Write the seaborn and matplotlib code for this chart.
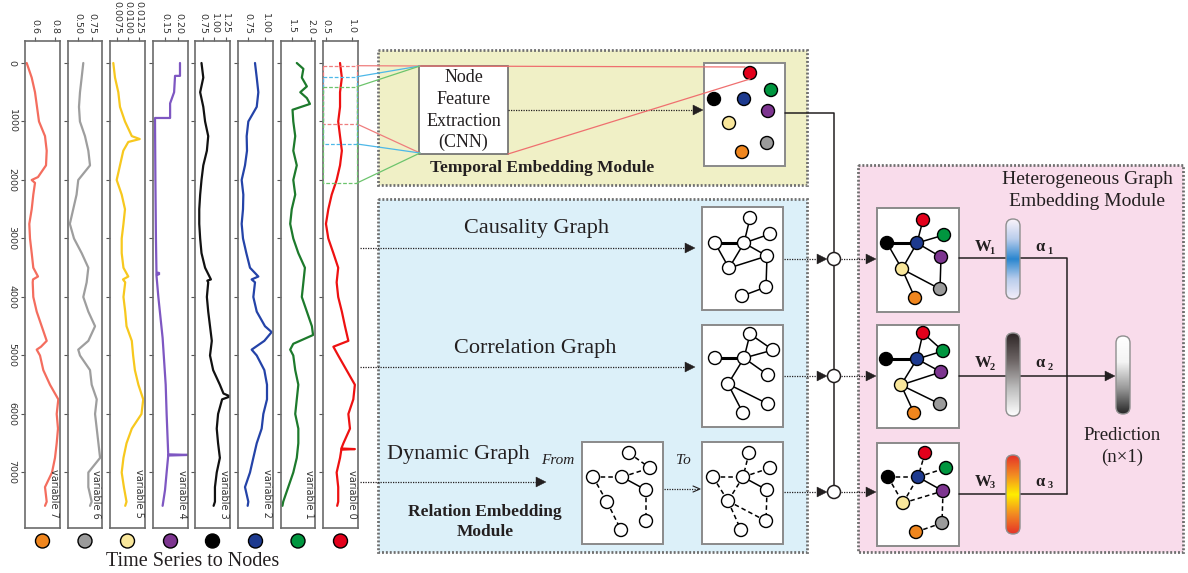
import numpy as np
import matplotlib
matplotlib.use("Agg")
import matplotlib.pyplot as plt
import seaborn as sns
from matplotlib.patches import Rectangle, Circle, Polygon, FancyBboxPatch
from matplotlib.colors import LinearSegmentedColormap

# ---------------- sensor series (time index, value) ----------------
VAR0_T = [0, 250, 500, 750, 1000, 1250, 1500, 1750, 2000, 2250, 2500, 2750, 3000, 3250, 3500, 3750,
          4000, 4250, 4500, 4750, 4850, 5000, 5250, 5500, 5750, 6000, 6250, 6500, 6590, 6600, 6610,
          6750, 7000, 7250, 7500, 7570]
VAR0_V = [0.775, 0.81, 0.775, 0.775, 0.74, 0.775, 0.81, 0.775, 0.71, 0.615, 0.55, 0.505, 0.55, 0.647,
          0.74, 0.71, 0.74, 0.81, 0.87, 0.935, 0.647, 0.74, 0.90, 1.06, 1.03, 0.935, 0.966, 0.84, 0.80,
          1.06, 0.80, 0.775, 0.71, 0.74, 0.74, 0.72]

VAR1_T = [0, 100, 250, 400, 500, 600, 700, 800, 1000, 1250, 1500, 1750, 2000, 2250, 2500, 2750, 3000,
          3250, 3500, 3750, 4000, 4250, 4500, 4650, 4800, 4900, 5000, 5250, 5500, 5750, 6000, 6250,
          6500, 6750, 7000, 7250, 7500, 7570]
VAR1_V = [1.63, 1.80, 1.76, 1.89, 1.72, 1.89, 1.97, 1.52, 1.54, 1.59, 1.54, 1.63, 1.54, 1.59, 1.50,
          1.46, 1.54, 1.67, 1.84, 1.80, 1.76, 1.89, 2.02, 2.05, 1.54, 1.46, 1.54, 1.59, 1.67, 1.63,
          1.59, 1.67, 1.67, 1.63, 1.54, 1.41, 1.28, 1.26]

VAR2_T = [0, 250, 500, 750, 1000, 1250, 1500, 1750, 2000, 2250, 2500, 2750, 3000, 3250, 3500, 3650,
          3700, 3750, 4000, 4250, 4500, 4600, 4750, 4900, 5000, 5250, 5500, 5750, 6000, 6250, 6500,
          6750, 7000, 7250, 7500, 7570]
VAR2_V = [0.85, 0.876, 0.90, 0.876, 0.75, 0.725, 0.73, 0.70, 0.65, 0.675, 0.67, 0.65, 0.67, 0.72,
          0.775, 0.90, 0.80, 0.85, 0.825, 0.876, 1.0, 1.1, 0.99, 0.80, 0.876, 0.99, 1.03, 1.03, 0.975,
          0.95, 0.876, 0.825, 0.775, 0.70, 0.75, 0.74]

VAR3_T = [0, 250, 500, 750, 1000, 1250, 1500, 1750, 2000, 2250, 2500, 2750, 3000, 3250, 3500, 3700,
          3720, 3750, 4000, 4250, 4500, 4750, 5000, 5250, 5500, 5650, 5700, 5750, 6000, 6250, 6500,
          6750, 7000, 7250, 7500, 7570]
VAR3_V = [0.71, 0.75, 0.68, 0.75, 0.79, 0.86, 0.83, 0.75, 0.71, 0.68, 0.66, 0.66, 0.68, 0.71, 0.79,
          0.92, 0.84, 0.86, 0.83, 0.86, 0.90, 0.94, 0.90, 0.97, 1.12, 1.20, 1.35, 1.17, 1.08, 1.05,
          1.08, 1.12, 1.05, 1.01, 1.01, 0.98]

VAR4_T = [0, 220, 220, 500, 690, 940, 940, 2000, 3000, 3580, 3590, 3600, 3610, 3620, 3630, 4000,
          4700, 5500, 6000, 6690, 6700, 6710, 7000, 7300, 7570]
VAR4_V = [0.206, 0.206, 0.1875, 0.184, 0.169, 0.169, 0.1125, 0.114, 0.116, 0.118, 0.128, 0.118,
          0.128, 0.118, 0.118, 0.125, 0.141, 0.1525, 0.156, 0.162, 0.24, 0.162, 0.156, 0.15, 0.141]

VAR5_T = [0, 250, 500, 750, 1000, 1250, 1300, 1350, 1500, 1750, 2000, 2250, 2500, 2750, 3000, 3250,
          3500, 3650, 3700, 3750, 4000, 4250, 4500, 4750, 5000, 5250, 5500, 5750, 6000, 6250, 6500,
          6750, 7000, 7250, 7500, 7570]
VAR5_V = [0.00659, 0.00698, 0.00773, 0.00811, 0.00925, 0.0108, 0.0126, 0.0100, 0.00886, 0.00811,
          0.00736, 0.0085, 0.00925, 0.0089, 0.0085, 0.0085, 0.0089, 0.0100, 0.0088, 0.0093, 0.0089,
          0.0093, 0.0096, 0.0108, 0.0111, 0.0115, 0.0123, 0.0134, 0.0130, 0.0108, 0.0096, 0.0089,
          0.0085, 0.0090, 0.0096, 0.0093]

VAR6_T = [0, 250, 500, 750, 1000, 1250, 1500, 1750, 2000, 2250, 2500, 2750, 3000, 3250, 3500, 3750,
          4000, 4250, 4500, 4750, 4900, 5000, 5250, 5500, 5750, 6000, 6250, 6500, 6750, 7000, 7250,
          7500, 7570]
VAR6_V = [0.60, 0.571, 0.541, 0.523, 0.54, 0.63, 0.69, 0.72, 0.51, 0.48, 0.42, 0.36, 0.434, 0.571,
          0.69, 0.66, 0.60, 0.69, 0.81, 0.69, 0.51, 0.541, 0.72, 0.75, 0.84, 0.81, 0.84, 0.87, 0.90,
          0.69, 0.69, 0.75, 0.72]

VAR7_T = [0, 250, 500, 750, 1000, 1250, 1500, 1750, 1950, 2000, 2050, 2250, 2500, 2750, 3000, 3250,
          3500, 3650, 3700, 3750, 4000, 4250, 4500, 4750, 4850, 4900, 5000, 5250, 5500, 5750, 6000,
          6250, 6500, 6750, 7000, 7250, 7500, 7570]
VAR7_V = [0.517, 0.567, 0.60, 0.62, 0.64, 0.70, 0.717, 0.71, 0.63, 0.567, 0.60, 0.583, 0.567, 0.543,
          0.55, 0.567, 0.583, 0.63, 0.58, 0.577, 0.583, 0.617, 0.667, 0.717, 0.66, 0.617, 0.65, 0.683,
          0.75, 0.833, 0.817, 0.83, 0.817, 0.80, 0.77, 0.70, 0.717, 0.70]

VARIABLE_NAMES = ["variable 7", "variable 6", "variable 5", "variable 4",
                  "variable 3", "variable 2", "variable 1", "variable 0"]
SERIES = [(VAR7_T, VAR7_V), (VAR6_T, VAR6_V), (VAR5_T, VAR5_V), (VAR4_T, VAR4_V),
          (VAR3_T, VAR3_V), (VAR2_T, VAR2_V), (VAR1_T, VAR1_V), (VAR0_T, VAR0_V)]
X_TICKS = [[0.6, 0.8], [0.50, 0.75], [0.0075, 0.0100, 0.0125], [0.15, 0.20],
           [0.75, 1.00, 1.25], [0.75, 1.00], [1.5, 2.0], [0.5, 1.0]]
X_TICK_LABELS = [["0.6", "0.8"], ["0.50", "0.75"], ["0.0075", "0.0100", "0.0125"], ["0.15", "0.20"],
                 ["0.75", "1.00", "1.25"], ["0.75", "1.00"], ["1.5", "2.0"], ["0.5", "1.0"]]
Y_TICKS = [0, 1000, 2000, 3000, 4000, 5000, 6000, 7000]

# ---------------- styling ----------------
LINE_COLORS = ["#f46d5e", "#9e9e9e", "#f7c81e", "#7e57c2", "#111111", "#2443a8", "#1d7a2c", "#ee1111"]
NODE_COLORS = ["#f0861e", "#9b9b9b", "#f9e79b", "#7d3590", "#000000", "#1d3a8f", "#00963f", "#e3001b"]
X_LIMITS = [(0.50, 0.85), (0.327, 0.934), (0.00584, 0.0138), (0.105, 0.236),
            (0.565, 1.346), (0.595, 1.12), (1.223, 2.10), (0.448, 1.12)]
PANEL_PX = [(25, 60), (68, 102), (110, 145), (153, 188), (195, 230), (238, 273), (281, 315), (323, 358)]
PANEL_TOP, PANEL_BOTTOM = 41, 528

sns.set_style("ticks")
plt.rcParams["font.family"] = ["DejaVu Sans"]
SERIF = ["Liberation Serif", "DejaVu Serif"]
INK = "#231f20"

W, H = 1188, 573
fig = plt.figure(figsize=(W / 100, H / 100), dpi=100)

# ---------------- stacked time-series panels ----------------
for i, ((t, v), name) in enumerate(zip(SERIES, VARIABLE_NAMES)):
    x0, x1 = PANEL_PX[i]
    ax = fig.add_axes([x0 / W, 1 - PANEL_BOTTOM / H, (x1 - x0) / W, (PANEL_BOTTOM - PANEL_TOP) / H],
                      zorder=3)
    sns.lineplot(x=v, y=t, orient="y", sort=False, estimator=None,
                 color=LINE_COLORS[i], linewidth=1.6, ax=ax)
    ax.set_xlim(*X_LIMITS[i])
    ax.set_ylim(7949, -376)
    ax.set_xlabel("")
    ax.set_ylabel("")
    ax.xaxis.tick_top()
    ax.set_xticks(X_TICKS[i], X_TICK_LABELS[i])
    ax.set_yticks(Y_TICKS)
    if i == 0:
        ax.set_yticklabels([str(y) for y in Y_TICKS], rotation=-90, va="center")
    else:
        ax.set_yticklabels([])
    ax.tick_params(axis="x", labelrotation=-90, length=3, width=0.8, color="#555555",
                   labelsize=6.8, labelcolor="#333333", pad=2)
    ax.tick_params(axis="y", length=3, width=0.8, color="#555555",
                   labelsize=6.8, labelcolor="#333333", pad=3)
    for s in ax.spines.values():
        s.set_color("#6b6b6b")
        s.set_linewidth(1.2)
    ax.text(0.97, 0.02, name, transform=ax.transAxes, rotation=-90, ha="right", va="bottom",
            fontsize=7, color="#333333")

# ---------------- diagram canvas (pixel coordinates) ----------------
cv = fig.add_axes([0, 0, 1, 1], zorder=10)
cv.patch.set_alpha(0)
cv.set_axis_off()


def module_box(x0, y0, x1, y1, fill):
    cv.add_patch(Rectangle((x0, y0), x1 - x0, y1 - y0, fc=fill, ec="#6f6f6f", lw=2.0,
                           ls=(0, (0.7, 0.7)), zorder=1))


def white_box(x0, y0, x1, y1, ec="#8a8a8a", lw=1.4):
    cv.add_patch(Rectangle((x0, y0), x1 - x0, y1 - y0, fc="white", ec=ec, lw=lw, zorder=2))


def head(xtip, y, size=10, open_style=False):
    if open_style:
        cv.plot([xtip - 7, xtip, xtip - 7], [y - 3, y, y + 3], color=INK, lw=0.8, zorder=6)
    else:
        cv.add_patch(Polygon([[xtip - size, y - size / 2], [xtip, y], [xtip - size, y + size / 2]],
                             closed=True, fc=INK, ec=INK, lw=0.3, zorder=6))


def dotted(x0, x1, y):
    cv.plot([x0, x1], [y, y], color=INK, lw=0.9, ls=(0, (1, 1)), zorder=5)


def label(x, y, s, size, weight="normal", style="normal", ha="center"):
    cv.text(x, y, s, ha=ha, va="center", fontsize=size, family=SERIF, color=INK,
            fontweight=weight, fontstyle=style, zorder=7)


def graph(nodes, edges, colors=None, r=6.5):
    for a, b, kind in edges:
        lw = {"s": 1.1, "b": 2.2, "d": 1.1}[kind]
        ls = (0, (3, 2)) if kind == "d" else "-"
        cv.plot([nodes[a][0], nodes[b][0]], [nodes[a][1], nodes[b][1]], color="black",
                lw=lw, ls=ls, zorder=3)
    for k, (x, y) in enumerate(nodes):
        fc = colors[k] if colors else "white"
        cv.add_patch(Circle((x, y), r, fc=fc, ec="black", lw=1.0, zorder=4))


def capsule(xc, y0, y1, stops, w=14):
    box = FancyBboxPatch((xc - w / 2, y0), w, y1 - y0,
                         boxstyle=f"round,pad=0,rounding_size={w / 2}",
                         fc="none", ec="#8f8f8f", lw=1.0, zorder=6)
    cv.add_patch(box)
    cmap = LinearSegmentedColormap.from_list("cap", stops)
    grad = np.linspace(0, 1, 256).reshape(-1, 1)
    im = cv.imshow(grad, cmap=cmap, extent=[xc - w / 2, xc + w / 2, y1, y0], aspect="auto",
                   interpolation="bilinear", zorder=5)
    im.set_clip_path(box)


# module backgrounds
module_box(378, 50, 807, 185, "#f0f0c6")
module_box(378, 199, 807, 552, "#dcf0f9")
module_box(858, 165, 1183, 552, "#f9dceb")

# time-series selection windows on the last panel
WINDOWS = [(65.7, 124, "#ef7d7d"), (76.7, 144, "#4db8e8"), (86.7, 183, "#6cc46c")]
for top, bot, col in WINDOWS:
    cv.add_patch(Rectangle((323, top), 34, bot - top, fc="none", ec=col, lw=0.9,
                           ls=(0, (3, 1.5)), zorder=8))
    cv.plot([357, 420], [top, 66], color=col, lw=0.9, zorder=8)
    cv.plot([357, 420], [bot, 153], color=col, lw=0.9, zorder=8)

# temporal embedding module
white_box(419, 66, 508, 154, ec="#6b6b6b", lw=1.2)
for k, line in enumerate(["Node", "Feature", "Extraction", "(CNN)"]):
    label(463.5, 78 + k * 21.5, line, 13)
label(542, 168, "Temporal Embedding Module", 12.5, weight="bold")
dotted(508, 695, 110)
head(703, 110)
white_box(704, 63, 785, 166)
EMB_NODES = [(742, 152), (767, 143), (729, 123), (768, 111), (714, 99), (744, 99), (771, 90), (750, 73)]
graph(EMB_NODES, [], colors=NODE_COLORS)
cv.plot([420, 745], [66, 67], color="#ef6f6f", lw=0.9, zorder=8)
cv.plot([508, 750], [154, 79], color="#ef6f6f", lw=0.9, zorder=8)

# relation embedding module
label(537, 228, "Causality Graph", 16)
label(535, 348, "Correlation Graph", 16)
label(458, 455, "Dynamic Graph", 16)
label(558, 460, "From", 11, style="italic")
label(683, 461, "To", 11, style="italic")
label(485, 512, "Relation Embedding", 12.5, weight="bold")
label(485, 532, "Module", 12.5, weight="bold")

dotted(360, 686, 248)
head(695, 248)
dotted(360, 686, 367)
head(695, 367)
dotted(360, 537, 482)
head(546, 482)

white_box(702, 207, 783, 310)
CAUS_NODES = [(750, 218), (715, 243), (744, 243), (770, 234), (767, 256), (729, 268), (766, 287), (742, 296)]
graph(CAUS_NODES, [(1, 2, "b"), (2, 0, "s"), (2, 3, "s"), (2, 4, "s"), (1, 5, "s"), (2, 5, "s"),
                   (5, 4, "s"), (4, 6, "s"), (6, 7, "s")])

white_box(702, 325, 783, 427)
CORR_NODES = [(750, 334), (773, 350), (715, 358), (744, 358), (768, 375), (728, 384), (768, 404), (743, 413)]
graph(CORR_NODES, [(2, 3, "b"), (3, 0, "s"), (0, 1, "s"), (3, 1, "s"), (3, 4, "s"), (3, 5, "s"),
                   (5, 6, "s"), (5, 7, "s")])

white_box(582, 442, 663, 544)
FROM_NODES = [(629, 453), (650, 468), (593, 477), (622, 477), (646, 490), (607, 502), (646, 521), (621, 530)]
graph(FROM_NODES, [(0, 1, "d"), (2, 3, "d"), (3, 1, "d"), (3, 4, "s"), (4, 6, "d"), (2, 5, "d"),
                   (5, 7, "d")])
dotted(664, 699, 489)
head(700, 489, open_style=True)

white_box(702, 442, 783, 544)
TO_NODES = [(749, 453), (770, 468), (713, 477), (743, 477), (767, 490), (728, 501), (766, 521), (741, 530)]
graph(TO_NODES, [(0, 3, "d"), (2, 3, "d"), (3, 1, "d"), (3, 4, "s"), (4, 6, "d"), (2, 5, "d"),
                 (3, 5, "d"), (5, 6, "d"), (5, 7, "d")])

# connectors into the heterogeneous module
cv.plot([785, 834, 834], [113, 113, 486], color=INK, lw=1.1, zorder=5)
for y in (259, 376, 492):
    dotted(784, 818, y)
    head(827, y)
    cv.add_patch(Circle((834, y), 6.5, fc="white", ec=INK, lw=1.1, zorder=6))
    dotted(841, 866, y)
    head(876, y)

# heterogeneous graph embedding module
label(1087, 180, "Heterogeneous Graph", 14)
label(1087, 202, "Embedding Module", 14)

white_box(877, 208, 959, 312)
G1 = [(923, 220), (944, 235), (887, 243), (917, 243), (941, 257), (902, 269), (940, 289), (915, 298)]
C8 = ["#e3001b", "#00963f", "#000000", "#1d3a8f", "#7d3590", "#f9e79b", "#9b9b9b", "#f0861e"]
graph(G1, [(2, 3, "b"), (3, 0, "s"), (3, 1, "s"), (3, 4, "s"), (2, 5, "s"), (3, 5, "s"),
           (5, 6, "s"), (4, 6, "s"), (5, 7, "s")], colors=C8)

white_box(877, 325, 959, 428)
G2 = [(923, 333), (943, 351), (886, 359), (917, 359), (941, 372), (901, 385), (940, 404), (914, 413)]
graph(G2, [(2, 3, "b"), (3, 0, "s"), (0, 1, "s"), (3, 1, "s"), (3, 4, "s"), (3, 5, "s"),
           (5, 4, "s"), (5, 6, "s"), (5, 7, "s")], colors=C8)

white_box(877, 443, 959, 546)
G3 = [(925, 453), (946, 468), (888, 477), (918, 477), (943, 491), (903, 503), (942, 523), (916, 532)]
graph(G3, [(0, 3, "d"), (2, 3, "d"), (3, 1, "d"), (3, 4, "s"), (2, 5, "d"), (5, 4, "d"),
           (5, 3, "d"), (4, 6, "d"), (6, 7, "d")], colors=C8)

# weight / attention paths
for y in (258, 376, 494):
    cv.plot([959, 1006], [y, y], color=INK, lw=1.1, zorder=5)
cv.plot([1020, 1067, 1067], [258, 258, 494], color=INK, lw=1.1, zorder=5)
cv.plot([1020, 1067], [494, 494], color=INK, lw=1.1, zorder=5)
cv.plot([1020, 1106], [376, 376], color=INK, lw=1.1, zorder=5)
head(1115, 376)

capsule(1013, 219, 299, ["#fbf4fb", "#b9cdec", "#2a86cf", "#b9cdec", "#f4eefa"])
capsule(1013, 333, 416, ["#2e2626", "#6e6666", "#bdbdbd", "#ffffff"])
capsule(1013, 455, 534, ["#e53228", "#f28a22", "#ffee00", "#f28a22", "#e53228"])
capsule(1123, 336, 414, ["#ffffff", "#f4f4f4", "#9a9a9a", "#262626"])

for k, y in enumerate((247, 363, 482)):
    label(983, y, "W", 12, weight="bold")
    label(992, y + 4, str(k + 1), 7.5, weight="bold")
    label(1040, y, "α", 12, weight="bold")
    label(1050, y + 4, str(k + 1), 7.5, weight="bold")

label(1122, 435, "Prediction", 13.5)
label(1122, 457, "(n×1)", 13.5)

# node legend under the panels
for (x0, x1), col in zip(PANEL_PX, NODE_COLORS):
    cv.add_patch(Circle(((x0 + x1) / 2, 541), 7, fc=col, ec="black", lw=1.0, zorder=4))
label(193, 561, "Time Series to Nodes", 14.5)

cv.set_xlim(0, W)
cv.set_ylim(H, 0)

fig.savefig("out.png", dpi=100)
